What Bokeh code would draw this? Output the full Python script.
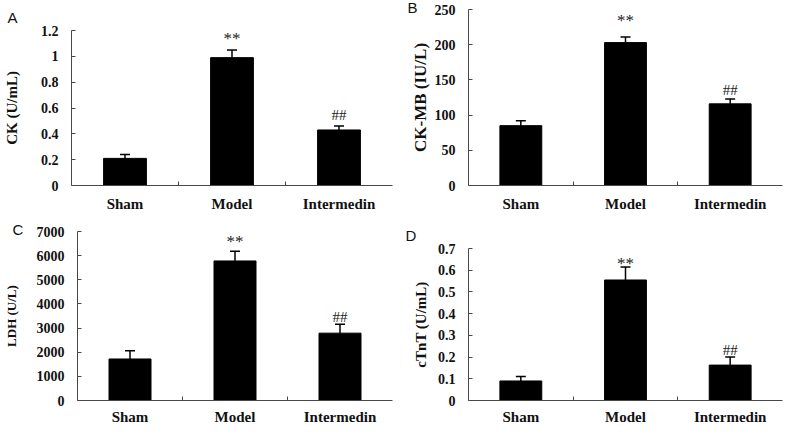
from bokeh.plotting import figure
from bokeh.models import (ColumnDataSource, Range1d, FixedTicker, CustomJSTickFormatter,
                          Whisker, TeeHead, LabelSet)
from bokeh.layouts import column, row
from bokeh.embed import file_html
from bokeh.resources import INLINE

# ---------------- data ----------------
categories = ["Sham", "Model", "Intermedin"]
marks = ["", "**", "##"]

ck = [0.21, 0.99, 0.43]
ck_err = [0.03, 0.06, 0.03]
ck_ticks = [0, 0.2, 0.4, 0.6, 0.8, 1, 1.2]

ckmb = [85, 203, 116]
ckmb_err = [7, 8, 7]
ckmb_ticks = [0, 50, 100, 150, 200, 250]

ldh = [1720, 5780, 2790]
ldh_err = [340, 400, 370]
ldh_ticks = [0, 1000, 2000, 3000, 4000, 5000, 6000, 7000]

ctnt = [0.09, 0.555, 0.163]
ctnt_err = [0.02, 0.06, 0.037]
ctnt_ticks = [0, 0.1, 0.2, 0.3, 0.4, 0.5, 0.6, 0.7]

SERIF = "Liberation Serif"
SANS = "Liberation Sans"
AXIS_COLOR = "#484848"


def panel(letter, values, errs, ticks, ylabel, w, h, borders, title_size,
          title_standoff, star_off, hash_off, letter_offset, letter_standoff, x_standoff):
    left, right, top, bottom = borders
    ncat = len(categories)
    p = figure(width=w, height=h, output_backend="svg", toolbar_location=None,
               x_range=Range1d(0, ncat), y_range=Range1d(0, ticks[-1]),
               min_border_left=left, min_border_right=right,
               min_border_top=top, min_border_bottom=bottom,
               title=letter)
    p.frame_align = False
    p.outline_line_color = None
    p.xgrid.visible = False
    p.ygrid.visible = False
    p.background_fill_color = "white"
    p.border_fill_color = "white"

    # panel letter as the plot title
    p.title.align = "left"
    p.title.offset = letter_offset
    p.title.standoff = letter_standoff
    p.title.text_font = SANS
    p.title.text_font_size = "15px"
    p.title.text_font_style = "normal"
    p.title.text_color = "#111111"

    xs = [i + 0.5 for i in range(ncat)]
    upper = [v + e for v, e in zip(values, errs)]
    src = ColumnDataSource(dict(x=xs, top=values, upper=upper, cat=categories,
                                star=["", marks[1], ""], hash=["", "", marks[2]]))

    p.vbar(x="x", top="top", bottom=0, width=0.4, source=src,
           fill_color="black", line_color="black")
    p.add_layout(Whisker(source=src, base="x", lower="top", upper="upper",
                         lower_head=None,
                         upper_head=TeeHead(size=10, line_color="black", line_width=1.5),
                         line_color="black", line_width=1.5))

    p.add_layout(LabelSet(x="x", y="upper", text="star", source=src, y_offset=star_off,
                          text_align="center", text_baseline="alphabetic",
                          text_font=SERIF, text_font_size="17px", text_color="#222222"))
    p.add_layout(LabelSet(x="x", y="upper", text="hash", source=src, y_offset=hash_off,
                          text_align="center", text_baseline="alphabetic",
                          text_font=SERIF, text_font_size="15px", text_color="#222222"))

    # x axis: labels at category centres, small ticks between categories
    xa = p.xaxis[0]
    xa.ticker = FixedTicker(ticks=xs, minor_ticks=list(range(1, ncat)))
    xa.major_label_overrides = {x: c for x, c in zip(xs, categories)}
    xa.major_tick_in = 0
    xa.major_tick_out = 0
    xa.minor_tick_in = 4
    xa.minor_tick_out = 0
    xa.axis_line_color = AXIS_COLOR
    xa.minor_tick_line_color = AXIS_COLOR
    xa.major_label_text_font = SERIF
    xa.major_label_text_font_style = "bold"
    xa.major_label_text_font_size = "15px"
    xa.major_label_text_color = "#111111"
    xa.major_label_standoff = x_standoff

    ya = p.yaxis[0]
    ya.ticker = FixedTicker(ticks=ticks)
    ya.formatter = CustomJSTickFormatter(code="return String(tick);")
    ya.major_tick_in = 4
    ya.major_tick_out = 0
    ya.minor_tick_in = 0
    ya.minor_tick_out = 0
    ya.axis_line_color = AXIS_COLOR
    ya.major_tick_line_color = AXIS_COLOR
    ya.major_label_text_font = SERIF
    ya.major_label_text_font_style = "bold"
    ya.major_label_text_font_size = "14px"
    ya.major_label_text_color = "#111111"
    ya.major_label_standoff = 13
    ya.axis_label = ylabel
    ya.axis_label_text_font = SERIF
    ya.axis_label_text_font_style = "bold"
    ya.axis_label_text_font_size = title_size
    ya.axis_label_text_color = "#111111"
    ya.axis_label_standoff = title_standoff
    return p


pa = panel("A", ck, ck_err, ck_ticks, "CK (U/mL)", 396, 214, (68, 4, 30, 27),
           "15px", 18, 6, 6, -64, 10, 10)
pb = panel("B", ckmb, ckmb_err, ckmb_ticks, "CK-MB (IU/L)", 388, 214, (72, 2, 9, 27),
           "17px", 2, 11, 4, -61, -13, 10)
pc = panel("C", ldh, ldh_err, ldh_ticks, "LDH (U/L)", 396, 213, (68, 4, 17, 24),
           "13px", 15, 4, 2, -65, -12, 8)
pd = panel("D", ctnt, ctnt_err, ctnt_ticks, "cTnT (U/mL)", 388, 213, (72, 2, 34, 24),
           "15px", 6, -2, 2, -63, 9, 8)

layout = column(row(pa, pb), row(pc, pd))

open("out.html", "w").write(file_html(layout, INLINE))
